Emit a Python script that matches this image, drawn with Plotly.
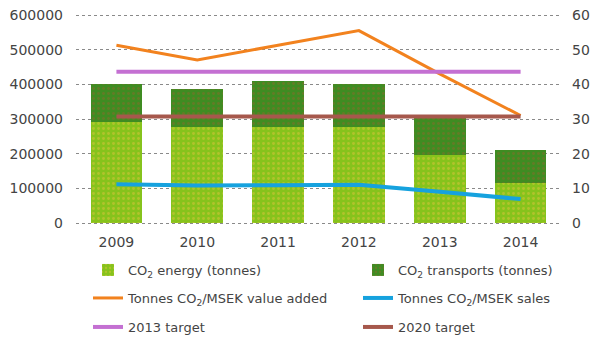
import plotly.graph_objects as go

years = ["2009", "2010", "2011", "2012", "2013", "2014"]
co2_energy = [292000, 278000, 278000, 278000, 196000, 116000]
co2_transports = [108000, 108000, 132000, 123000, 111000, 95000]
tonnes_value_added = [51.3, 47.0, 51.3, 55.5, 43.0, 31.0]
tonnes_sales = [11.2, 10.8, 10.9, 11.0, 9.0, 6.9]
target_2013 = [43.6] * 6
target_2020 = [30.7] * 6

FONT = "DejaVu Sans"
TXT = "#444444"

fig = go.Figure()
fig.add_trace(go.Bar(
    x=years, y=co2_energy, name="CO<sub>2</sub> energy (tonnes)",
    marker=dict(color="#86c31c", line=dict(width=0),
                pattern=dict(shape=".", fgcolor="#dcc43a", size=5, solidity=0.25)),
    legend="legend"))
fig.add_trace(go.Bar(
    x=years, y=co2_transports, name="CO<sub>2</sub> transports (tonnes)",
    marker=dict(color="#3f8c22", line=dict(width=0),
                pattern=dict(shape=".", fgcolor="#8a6a2a", size=5, solidity=0.25)),
    legend="legend2"))
fig.add_trace(go.Scatter(
    x=years, y=tonnes_value_added, name="Tonnes CO<sub>2</sub>/MSEK value added",
    mode="lines", line=dict(color="#f2821e", width=3), yaxis="y2", legend="legend3"))
fig.add_trace(go.Scatter(
    x=years, y=tonnes_sales, name="Tonnes CO<sub>2</sub>/MSEK sales",
    mode="lines", line=dict(color="#16a2de", width=4), yaxis="y2", legend="legend4"))
fig.add_trace(go.Scatter(
    x=years, y=target_2013, name="2013 target",
    mode="lines", line=dict(color="#c470d2", width=4), yaxis="y2", legend="legend5"))
fig.add_trace(go.Scatter(
    x=years, y=target_2020, name="2020 target",
    mode="lines", line=dict(color="#a6584c", width=4), yaxis="y2", legend="legend6"))

L, R, T, B = 76, 31, 11, 112
PW = 592 - L - R
PH = 339 - T - B
PAD = 600000 * (PH / 208 - 1) / 2  # headroom so the end gridlines are drawn

def leg(px, py):
    return dict(orientation="h", x=(px - L) / PW, xanchor="left",
                y=(339 - B - py) / PH, yanchor="middle",
                font=dict(family=FONT, size=13, color=TXT),
                bgcolor="rgba(0,0,0,0)", borderwidth=0)

fig.update_layout(
    width=592, height=339,
    margin=dict(l=L, r=R, t=T, b=B, autoexpand=False),
    barmode="stack", bargap=0.36,
    plot_bgcolor="white", paper_bgcolor="white",
    font=dict(family=FONT, size=14, color=TXT),
    xaxis=dict(showgrid=False, zeroline=False, showline=False, ticks="",
               ticklabelstandoff=5, tickfont=dict(size=14, color=TXT)),
    yaxis=dict(range=[-PAD, 600000 + PAD], tickvals=[0, 100000, 200000, 300000, 400000, 500000, 600000],
               tickformat="d",
               showgrid=True, gridcolor="#8a8a8a", griddash="dot", gridwidth=1,
               zeroline=False, showline=False, ticklabelstandoff=12,
               tickfont=dict(size=14, color=TXT)),
    yaxis2=dict(range=[-PAD / 10000, 60 + PAD / 10000], tickvals=[0, 10, 20, 30, 40, 50, 60],
                overlaying="y", side="right",
                showgrid=False, zeroline=False, showline=False, ticklabelstandoff=10,
                tickfont=dict(size=14, color=TXT)),
    showlegend=True,
    legend=leg(88, 270),
    legend2=leg(358, 270),
    legend3=leg(88, 298),
    legend4=leg(358, 298),
    legend5=leg(88, 327),
    legend6=leg(358, 327),
)

fig.write_html("out.html")
